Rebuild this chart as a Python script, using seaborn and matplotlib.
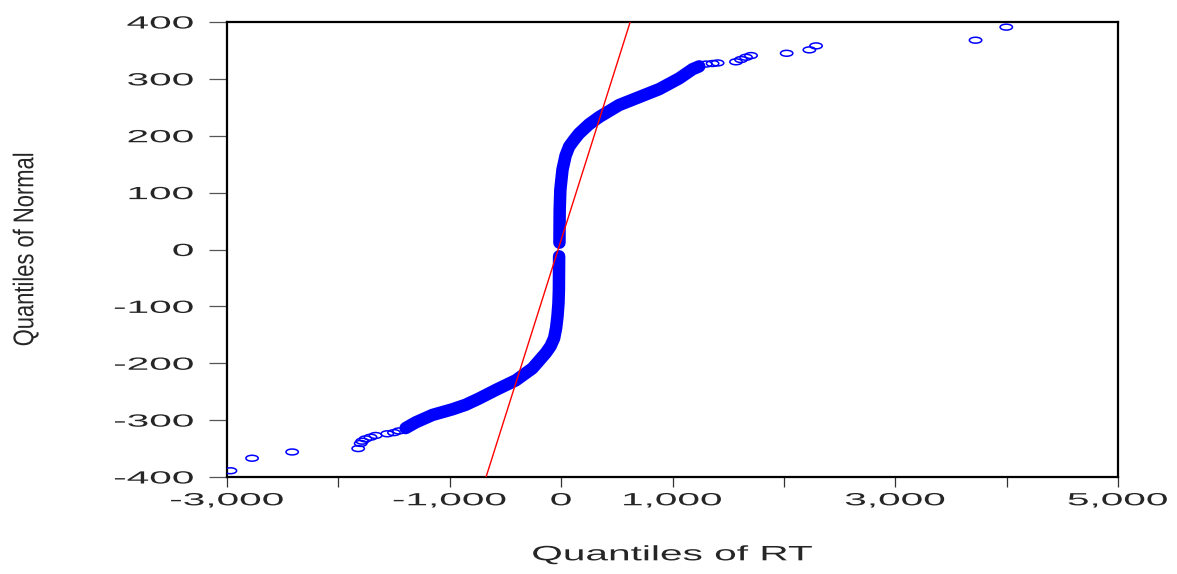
import matplotlib
matplotlib.use("Agg")
import matplotlib.pyplot as plt
import seaborn as sns
from matplotlib.markers import MarkerStyle
from matplotlib.patheffects import AbstractPathEffect
from matplotlib.transforms import Affine2D

# Dense part of the Q-Q curve (RT quantile, normal quantile)
low_band_rt = [-1396, -1306, -1157, -977, -857, -737, -587, -407, -258, -138, -95, -63, -45, -33, -24, -20, -18]
low_band_q = [-314, -304, -291, -281, -273, -262, -247, -230, -209, -182, -170, -156, -138, -118, -95, -71, -12]
up_band_rt = [-15, -13, -7, 12, 40, 72, 117, 162, 250, 342, 521, 701, 881, 1061, 1180, 1240]
up_band_q = [12, 69, 105, 140, 165, 181, 193, 204, 220, 233, 254, 268, 282, 301, 317, 322]

# Separate points in the two tails
tail_rt = [-2969, -2775, -2415, -1822, -1800, -1786, -1756, -1711, -1666, -1561, -1501, -1456,
           1300, 1360, 1405, 1570, 1615, 1660, 1705, 2025, 2229, 2289, 3721, 3997]
tail_q = [-389, -367, -356, -350, -341, -337, -333, -330, -327, -324, -322, -319,
          326, 327, 328, 330, 334, 338, 341, 345, 351, 358, 368, 391]

# Reference line
ref_rt = [-674, 620]
ref_q = [-400, 400]

x_ticks = [-3000, -2000, -1000, 0, 1000, 2000, 3000, 4000, 5000]
x_labels = ["-3,000", "", "-1,000", "0", "1,000", "", "3,000", "", "5,000"]
y_ticks = [-400, -300, -200, -100, 0, 100, 200, 300, 400]
y_labels = ["-400", "-300", "-200", "-100", "0", "100", "200", "300", "400"]


class Widen(AbstractPathEffect):
    """Stretch text sideways on screen, like the wide lettering of the original."""

    def __init__(self, k, anchor="center"):
        super().__init__()
        self.k = k
        self.anchor = anchor

    def draw_path(self, renderer, gc, tpath, affine, rgbFace=None):
        box = tpath.get_extents(affine)
        x0 = box.x1 if self.anchor == "right" else (box.x0 + box.x1) / 2
        stretch = Affine2D().translate(-x0, 0).scale(self.k, 1).translate(x0, 0)
        renderer.draw_path(gc, tpath, affine + stretch, rgbFace)


sns.set_style("white")
plt.rcParams["font.family"] = ["Liberation Sans", "DejaVu Sans"]

fig = plt.figure(figsize=(11.77, 5.74), dpi=100)
ax = fig.add_axes([227 / 1177, 1 - 477 / 574, 891 / 1177, 455 / 574])

blue = "#0000ff"
band_kw = dict(color=blue, lw=9, sort=False, estimator=None,
               solid_capstyle="round", solid_joinstyle="round")
sns.lineplot(x=low_band_rt, y=low_band_q, ax=ax, **band_kw)
sns.lineplot(x=up_band_rt, y=up_band_q, ax=ax, **band_kw)

oval = MarkerStyle("o", transform=Affine2D().scale(2.1, 1))
sns.scatterplot(x=tail_rt, y=tail_q, ax=ax, marker=oval, s=18,
                facecolor="none", edgecolor=blue, linewidth=1.1, zorder=3)

sns.lineplot(x=ref_rt, y=ref_q, ax=ax, color="red", lw=1.0, zorder=4)

ax.set_xlim(-3000, 5000)
ax.set_ylim(-400, 400)
ax.set_xticks(x_ticks, labels=x_labels)
ax.set_yticks(y_ticks, labels=y_labels)
ax.tick_params(axis="x", bottom=True, direction="out", length=7, width=0.9, color="#333333",
               labelsize=12.7, pad=4)
ax.tick_params(axis="y", left=True, direction="out", length=13, width=0.9, color="#555555",
               labelsize=12.7, pad=11)
for s in ax.spines.values():
    s.set_linewidth(1.6)
    s.set_color("black")

ax.set_xlabel("Quantiles of RT", fontsize=15, va="center")
ax.xaxis.set_label_coords(0.5, -0.171)
ax.set_ylabel("Quantiles of Normal", fontsize=15.8, va="center")
ax.yaxis.set_label_coords(-0.2256, 0.5)

for t in ax.get_xticklabels():
    t.set_path_effects([Widen(2.3)])
for t in ax.get_yticklabels():
    t.set_path_effects([Widen(2.3, anchor="right")])
ax.xaxis.label.set_path_effects([Widen(1.95)])
ax.yaxis.label.set_path_effects([Widen(1.3)])

fig.savefig("out.png", dpi=100)
